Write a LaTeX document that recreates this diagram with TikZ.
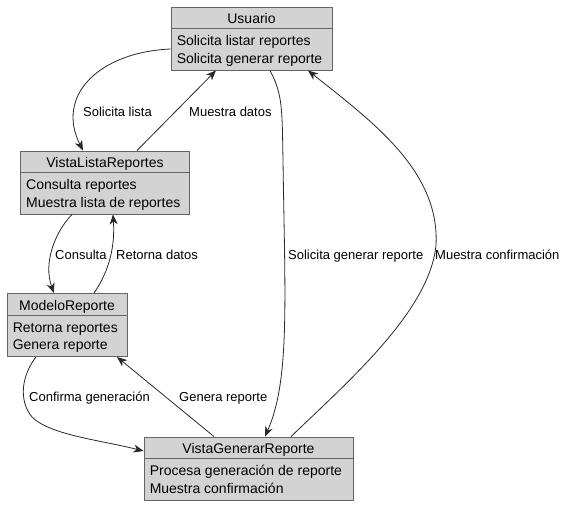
\documentclass[tikz,border=0pt]{standalone}
\usepackage{fontspec}
\setmainfont{Liberation Sans}
\usepackage{xcolor}
\usepackage{tikz}
\usetikzlibrary{arrows.meta, positioning}
\definecolor{clsfill}{RGB}{211,211,211}
\definecolor{clsline}{RGB}{100,100,100}
\definecolor{edgeline}{RGB}{40,40,40}

\begin{document}
\begin{tikzpicture}[
  x=1pt, y=-1pt,
  cls/.style={rectangle, draw=clsline, fill=clsfill, line width=0.9pt, inner sep=0pt},
  sep/.style={draw=clsline, line width=0.9pt},
  ttl/.style={anchor=base, inner sep=0pt, font=\fontsize{14}{17}\selectfont},
  body/.style={anchor=base west, inner sep=0pt, align=left, font=\fontsize{14}{17.5}\selectfont},
  lbl/.style={anchor=base west, inner sep=0pt, font=\fontsize{13}{15}\selectfont},
  arr/.style={-{Stealth[length=10pt, width=8pt, inset=3pt]}, line width=0.8pt, color=edgeline},
]
\useasboundingbox (0,0) rectangle (566,506);

% classes
\node[cls, minimum width=161, minimum height=63] (usuario) at (251.5,38.5) {};
\node[ttl] (usuarioT) at ([yshift=-17]usuario.north) {Usuario};
\draw[sep] ([yshift=-22]usuario.north west) -- ([yshift=-22]usuario.north east);
\node[body] (usuarioB) at ([xshift=6,yshift=-56.5]usuario.north west) {Solicita listar reportes\\Solicita generar reporte};

\node[cls, minimum width=169, minimum height=63] (vlr) at (105,182.5) {};
\node[ttl] (vlrT) at ([yshift=-17]vlr.north) {VistaListaReportes};
\draw[sep] ([yshift=-22]vlr.north west) -- ([yshift=-22]vlr.north east);
\node[body] (vlrB) at ([xshift=6,yshift=-56.5]vlr.north west) {Consulta reportes\\Muestra lista de reportes};

\node[cls, minimum width=120, minimum height=63] (mr) at (67,325) {};
\node[ttl] (mrT) at ([yshift=-17]mr.north) {ModeloReporte};
\draw[sep] ([yshift=-22]mr.north west) -- ([yshift=-22]mr.north east);
\node[body] (mrB) at ([xshift=6,yshift=-56.5]mr.north west) {Retorna reportes\\Genera reporte};

\node[cls, minimum width=209, minimum height=63] (vgr) at (248.5,468.5) {};
\node[ttl] (vgrT) at ([yshift=-17]vgr.north) {VistaGenerarReporte};
\draw[sep] ([yshift=-22]vgr.north west) -- ([yshift=-22]vgr.north east);
\node[body] (vgrB) at ([xshift=6,yshift=-56.5]vgr.north west) {Procesa generación de reporte\\Muestra confirmación};

% connectors
\draw[arr] ([yshift=-10.5]usuario.west) .. controls (100,52) and (55,95) .. ([xshift=-22]vlr.north);
\draw[arr] ([xshift=32]vlr.north) -- ([xshift=-35.5]usuario.south);
\draw[arr] ([xshift=-33]vlr.south) .. controls (55,232) and (43,263) .. ([xshift=-13]mr.north);
\draw[arr] ([xshift=27]mr.north) .. controls (110,270) and (115,245) .. ([xshift=8]vlr.south);
\draw[arr] ([xshift=-31]mr.south) .. controls (22,375) and (18,400) .. (32,417)
           .. controls (50,435) and (100,440) .. ([yshift=17.5]vgr.west);
\draw[arr] ([xshift=-34.5]vgr.north) -- ([xshift=50]mr.south);
\draw[arr] ([xshift=18.5]usuario.south) .. controls (283,95) and (282,110) .. (283,160)
           .. controls (285,300) and (290,380) .. ([xshift=16.5]vgr.north);
\draw[arr] ([xshift=42.5]vgr.north) .. controls (350,380) and (430,310) .. (436,245)
           .. controls (440,170) and (370,120) .. ([xshift=56.5]usuario.south);

% labels
\node[lbl] (l1) at (83,116) {Solicita lista};
\node[lbl] (l2) at (189,116) {Muestra datos};
\node[lbl] (l3) at (55,259) {Consulta};
\node[lbl] (l4) at (116,259) {Retorna datos};
\node[lbl] (l5) at (288,259) {Solicita generar reporte};
\node[lbl] (l6) at (435,259) {Muestra confirmación};
\node[lbl] (l7) at (29,401) {Confirma generación};
\node[lbl] (l8) at (179,401) {Genera reporte};

\end{tikzpicture}
\end{document}
